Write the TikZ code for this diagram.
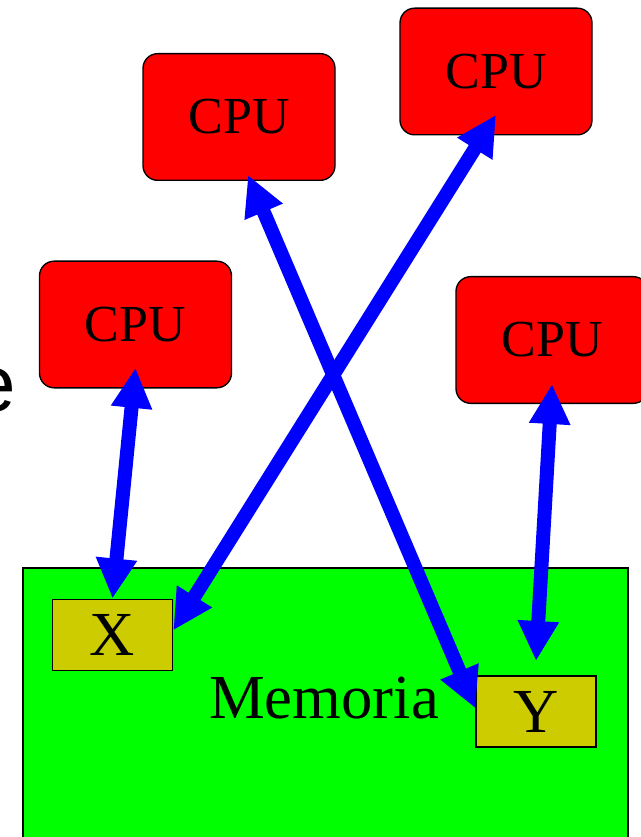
\documentclass[tikz,border=0pt]{standalone}
\usepackage{fontspec}
\setmainfont{Liberation Serif}
\newfontfamily\labelsans{Liberation Sans}
\usetikzlibrary{positioning,arrows.meta}

\definecolor{cpured}{RGB}{255,0,0}
\definecolor{memgreen}{RGB}{0,255,0}
\definecolor{varolive}{RGB}{204,204,0}
\definecolor{busblue}{RGB}{0,0,255}

\begin{document}
\begin{tikzpicture}[
  x=0.75pt, y=-0.75pt,
  cpu/.style={draw, line width=1pt, rounded corners=11pt, fill=cpured,
              minimum width=144pt, minimum height=95pt, inner sep=0pt,
              font=\fontsize{39pt}{40pt}\selectfont},
  var/.style={draw, line width=1.2pt, fill=varolive, minimum width=90pt,
              minimum height=53.5pt, inner sep=0pt,
              font=\fontsize{47pt}{48pt}\selectfont},
  bus/.style={{Triangle[length=30pt,width=29pt]}-{Triangle[length=30pt,width=29pt]},
              line width=10.5pt, busblue}
]
  \useasboundingbox (0,0) rectangle (640,837);

  % memoria con las dos variables
  \node[draw, line width=1.2pt, fill=memgreen, minimum width=453.75pt,
        minimum height=227pt, inner sep=0pt, anchor=north west] (mem) at (22,567) {};
  \node[var] (x) at (112.5,635) {X};
  \node[var] (y) at (536,711.5) {Y};
  \node[font=\fontsize{47pt}{48pt}\selectfont, anchor=base, inner sep=0pt]
    (memlabel) at (324,718) {Memoria};

  % procesadores
  \node[cpu] (cpuA) at (135.5,324.5) {CPU};
  \node[cpu] (cpuB) at (239,117) {CPU};
  \node[cpu] (cpuC) at (496,71.5) {CPU};
  \node[cpu] (cpuD) at (552,340) {CPU};

  % texto cortado en el borde
  \node[font=\labelsans\fontsize{60pt}{60pt}\selectfont, anchor=base east,
        inner sep=0pt] (cut) at (16,411) {e};

  % accesos a memoria
  \draw[bus] ([yshift=15.5pt]cpuA.south) -- (x.north);
  \draw[bus] ([yshift=15.5pt]cpuC.south) -- ([yshift=3.5pt]x.east);
  \draw[bus] ([xshift=6.75pt,yshift=4.5pt]cpuB.south) -- ([yshift=2.5pt]y.west);
  \draw[bus] ([yshift=15pt]cpuD.south) -- ([yshift=10.5pt]y.north);
\end{tikzpicture}
\end{document}
